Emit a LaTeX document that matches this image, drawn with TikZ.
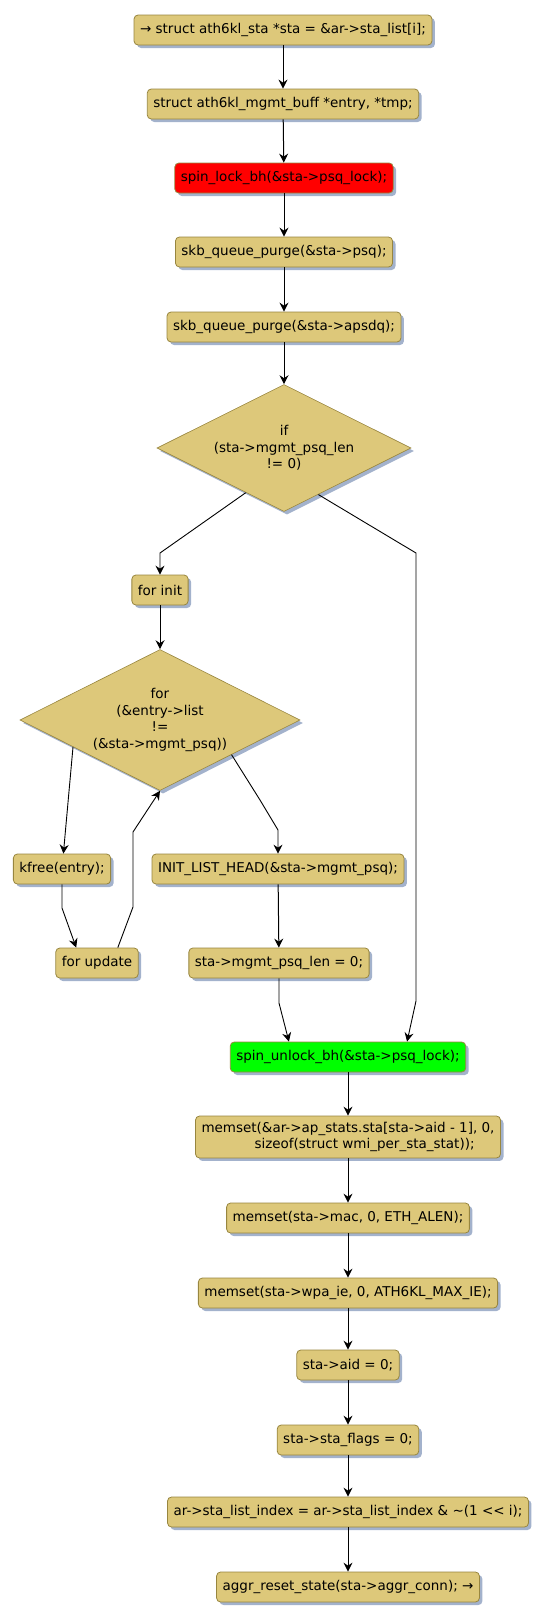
\documentclass[tikz,border=0pt]{standalone}
\usepackage{fontspec}
\setmainfont{DejaVu Sans}
\usepackage{tikz}
\usetikzlibrary{shapes.geometric,arrows.meta,calc,shadows}

\definecolor{boxfill}{RGB}{221,200,122}
\definecolor{boxline}{RGB}{152,134,63}
\definecolor{boxshadow}{RGB}{163,178,204}
\definecolor{lockred}{RGB}{255,0,0}
\definecolor{unlockgreen}{RGB}{0,255,0}

\begin{document}
\begin{tikzpicture}[
  x=1pt, y=-1pt,
  font=\fontsize{13.5}{16.5}\selectfont,
  stmt/.style={draw=boxline, fill=boxfill, rounded corners=4pt, minimum height=30pt,
    inner xsep=6pt, inner ysep=6pt, line width=0.8pt, align=left,
    drop shadow={shadow xshift=3pt, shadow yshift=-3pt, fill=boxshadow, opacity=1}},
  cond/.style={diamond, aspect=2, draw=boxline, fill=boxfill, inner sep=0pt, align=center,
    line width=0.6pt,
    drop shadow={shadow xshift=3pt, shadow yshift=-3pt, fill=boxshadow, opacity=1}},
  flow/.style={-{Stealth[length=9pt,width=9pt,inset=3pt]}, line width=1pt},
  link/.style={line width=0.9pt}
]
\useasboundingbox (0,0) rectangle (547,1620);

% Entry block
\node[stmt] (sta) at (283,30) {→ struct ath6kl\_sta *sta = \&ar->sta\_list[i];};
\node[stmt] (buff) at (283,104) {struct ath6kl\_mgmt\_buff *entry, *tmp;};
\node[stmt, fill=lockred] (lock) at (284,178) {spin\_lock\_bh(\&sta->psq\_lock);};
\node[stmt] (psq) at (284,252) {skb\_queue\_purge(\&sta->psq);};
\node[stmt] (apsdq) at (284,327) {skb\_queue\_purge(\&sta->apsdq);};

% Condition on the queue length
\node[cond, minimum width=254pt, minimum height=127pt] (iflen) at (284,448)
  {if\\(sta->mgmt\_psq\_len\\!= 0)};

% Loop over the management queue
\node[stmt] (forinit) at (160,590) {for init};
\node[cond, minimum width=280pt, minimum height=141pt] (forlist) at (160,720)
  {for\\(\&entry->list\\!=\\(\&sta->mgmt\_psq))};
\node[stmt] (kfree) at (62,869) {kfree(entry);};
\node[stmt] (forupd) at (97,963) {for update};
\node[stmt] (inithead) at (278,869) {INIT\_LIST\_HEAD(\&sta->mgmt\_psq);};
\node[stmt] (psqlen) at (279,963) {sta->mgmt\_psq\_len = 0;};

% Exit block
\node[stmt, fill=unlockgreen] (unlock) at (348,1057) {spin\_unlock\_bh(\&sta->psq\_lock);};
\node[stmt] (stats) at (348,1137)
  {memset(\&ar->ap\_stats.sta[sta->aid - 1], 0,\\\hspace*{53pt}sizeof(struct wmi\_per\_sta\_stat));};
\node[stmt] (mac) at (348,1218) {memset(sta->mac, 0, ETH\_ALEN);};
\node[stmt] (wpaie) at (348,1293) {memset(sta->wpa\_ie, 0, ATH6KL\_MAX\_IE);};
\node[stmt] (aid) at (348,1365) {sta->aid = 0;};
\node[stmt] (flags) at (348,1440) {sta->sta\_flags = 0;};
\node[stmt] (listidx) at (348,1512) {ar->sta\_list\_index = ar->sta\_list\_index \& \textasciitilde(1 <{}< i);};
\node[stmt] (aggr) at (348,1587) {aggr\_reset\_state(sta->aggr\_conn); →};

% Bend points
\coordinate (ifL) at ($(iflen.south)!0.3!(iflen.west)$);
\coordinate (ifR) at ($(iflen.south)!0.27!(iflen.east)$);
\coordinate (ifLb) at (160,553);
\coordinate (ifRb) at (416,553);
\coordinate (ifRc) at (416,1001);
\coordinate (forL) at ($(forlist.south)!0.62!(forlist.west)$);
\coordinate (forR) at ($(forlist.south)!0.51!(forlist.east)$);
\coordinate (forRb) at (260,800);
\coordinate (forRc) at (278,830);
\coordinate (kfreeb) at (62,908);
\coordinate (updin) at ($(forupd.north west)!0.5!(forupd.north)$);
\coordinate (updout) at ($(forupd.north)!0.5!(forupd.north east)$);
\coordinate (updb) at (133,907);
\coordinate (updc) at (133,832);
\coordinate (lenb) at (279,1003);
\coordinate (unlockL) at ($(unlock.north west)!0.5!(unlock.north)$);
\coordinate (unlockR) at ($(unlock.north)!0.5!(unlock.north east)$);

% Straight flow
\draw[flow] (sta) -- (buff);
\draw[flow] (buff) -- (lock);
\draw[flow] (lock) -- (psq);
\draw[flow] (psq) -- (apsdq);
\draw[flow] (apsdq) -- (iflen);
\draw[flow] (forinit) -- (forlist);
\draw[flow] (inithead) -- (psqlen);
\draw[flow] (unlock) -- (stats);
\draw[flow] (stats) -- (mac);
\draw[flow] (mac) -- (wpaie);
\draw[flow] (wpaie) -- (aid);
\draw[flow] (aid) -- (flags);
\draw[flow] (flags) -- (listidx);
\draw[flow] (listidx) -- (aggr);

% Branches
\draw[flow, link] (ifL) -- (ifLb) -- (forinit);
\draw[flow, link] (ifR) -- (ifRb) -- (ifRc) -- (unlockR);
\draw[flow, link] (forL) -- (kfree);
\draw[flow, link] (kfree) -- (kfreeb) -- (updin);
\draw[flow, link] (updout) -- (updb) -- (updc) -- (forlist.south);
\draw[flow, link] (forR) -- (forRb) -- (forRc) -- (inithead);
\draw[flow, link] (psqlen) -- (lenb) -- (unlockL);

\end{tikzpicture}
\end{document}
